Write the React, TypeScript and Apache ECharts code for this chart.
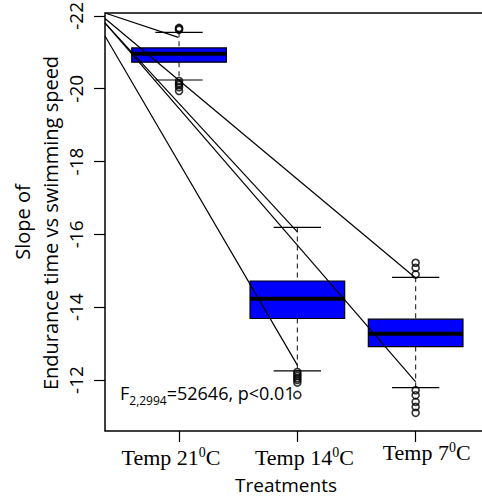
import React, { useEffect, useRef } from 'react';
import * as echarts from 'echarts';

// ---- data ----
const positions = [1, 2, 3];
const xLabelMain = ['Temp 21', 'Temp 14', 'Temp 7'];
const xLabelSup = '0';
const xLabelSuffix = 'C';

const whiskerLow = [-21.55, -16.19, -14.82];
const q1 = [-21.12, -14.72, -13.67];
const median = [-20.96, -14.23, -13.27];
const q3 = [-20.73, -13.69, -12.92];
const whiskerHigh = [-20.24, -12.25, -11.79];

const outliers21 = [-21.67, -21.65, -21.62, -20.21, -20.15, -20.1, -20.04, -19.94];
const outliers14 = [-12.22, -12.16, -12.11, -12.05, -12.0, -11.93, -11.59];
const outliers7 = [-15.22, -15.08, -14.9, -11.72, -11.58, -11.4, -11.26, -11.1];

const yTicks = [-22, -20, -18, -16, -14, -12];

// slope lines: start (x0,y0) -> end (x1,y1)
const segX0 = [0.374, 0.374, 0.374, 0.374, 0.374];
const segY0 = [-22.08, -21.93, -21.8, -21.81, -21.45];
const segX1 = [0.994, 3, 2, 3, 2];
const segY1 = [-21.41, -14.8, -16.07, -11.95, -12.41];

const yTitle1 = 'Slope of';
const yTitle2 = 'Endurance time vs swimming speed';
const xTitle = 'Treatments';
const statF = 'F';
const statSub = '2,2994';
const statRest = '=52646, p<0.01';

export default function App() {
  const ref = useRef<HTMLDivElement>(null);
  useEffect(() => {
    document.body.style.margin = '0';
    if (!ref.current) return;
    const chart = echarts.init(ref.current, null, { renderer: 'svg' });
    const sans = 'Open Sans';
    const serif = 'Liberation Serif';

    const boxData = positions.map((p, i) => [p, whiskerLow[i], q1[i], median[i], q3[i], whiskerHigh[i]]);
    const outlierData: number[][] = [];
    [outliers21, outliers14, outliers7].forEach((arr, i) => arr.forEach((v) => outlierData.push([positions[i], v])));

    const lineSeries = segX0.map((_, i) => ({
      type: 'line',
      data: [[segX0[i], segY0[i]], [segX1[i], segY1[i]]],
      showSymbol: false,
      symbol: 'none',
      lineStyle: { color: '#000', width: 1.2 },
      z: 10,
      silent: true,
    }));

    const rich: any = {
      t: { fontFamily: serif, fontSize: 22, lineHeight: 26, color: '#000', verticalAlign: 'middle' },
      s: { fontFamily: serif, fontSize: 14, lineHeight: 14, height: 16, color: '#000', verticalAlign: 'top' },
      tpr: { fontFamily: serif, fontSize: 22, lineHeight: 26, color: '#000', verticalAlign: 'middle', padding: [0, 16, 0, 0] },
      tpl: { fontFamily: serif, fontSize: 22, lineHeight: 26, color: '#000', verticalAlign: 'middle', padding: [0, 0, 0, 14] },
      t3: { fontFamily: serif, fontSize: 22, lineHeight: 16, color: '#000', verticalAlign: 'middle', padding: [0, 0, 0, 22] },
      t3b: { fontFamily: serif, fontSize: 22, lineHeight: 16, color: '#000', verticalAlign: 'middle' },
      s3: { fontFamily: serif, fontSize: 14, lineHeight: 4, height: 6, color: '#000', verticalAlign: 'top' },
    };

    const option: any = {
      animation: false,
      grid: {
        left: 105, top: 13, right: -7, bottom: 66,
        containLabel: false, outerBoundsMode: 'none',
        show: true, borderColor: '#000', borderWidth: 1.5, backgroundColor: 'transparent',
      },
      xAxis: {
        type: 'value',
        min: 0.374,
        max: 3.62,
        axisLine: { show: false },
        splitLine: { show: false },
        axisTick: { show: true, customValues: positions, length: 11, lineStyle: { color: '#000', width: 1.2 } },
        axisLabel: {
          customValues: positions,
          margin: 13,
          formatter: (v: number) => {
            const i = positions.indexOf(Math.round(v));
            if (i === 0) return `{t|${xLabelMain[i]}}{s|${xLabelSup}}{tpr|${xLabelSuffix}}`;
            if (i === 1) return `{tpl|${xLabelMain[i]}}{s|${xLabelSup}}{t|${xLabelSuffix}}`;
            return `{t3|${xLabelMain[i]}}{s3|${xLabelSup}}{t3b|${xLabelSuffix}}`;
          },
          rich,
        },
      },
      yAxis: {
        type: 'value',
        inverse: true,
        min: -22.08,
        max: -10.6,
        axisLine: { show: false },
        splitLine: { show: false },
        axisTick: { show: true, customValues: yTicks, length: 11, lineStyle: { color: '#000', width: 1.2 } },
        axisLabel: { customValues: yTicks, rotate: 90, margin: 20, fontFamily: sans, fontSize: 19, color: '#000' },
      },
      series: [
        {
          type: 'custom',
          data: boxData,
          encode: { x: 0, y: [1, 2, 3, 4, 5] },
          z: 2,
          renderItem: (params: any, api: any) => {
            const x = api.value(0);
            const lo = api.value(1), a = api.value(2), m = api.value(3), b = api.value(4), hi = api.value(5);
            const hb = 0.4, hc = 0.2;
            const pA = api.coord([x - hb, a]);
            const pB = api.coord([x + hb, b]);
            const cLo = api.coord([x, lo]);
            const cHi = api.coord([x, hi]);
            const cLoL = api.coord([x - hc, lo]);
            const cLoR = api.coord([x + hc, lo]);
            const cHiL = api.coord([x - hc, hi]);
            const cHiR = api.coord([x + hc, hi]);
            const mL = api.coord([x - hb, m]);
            const mR = api.coord([x + hb, m]);
            const top = Math.min(pA[1], pB[1]);
            const bot = Math.max(pA[1], pB[1]);
            const dash = { stroke: '#222', lineWidth: 1.1, lineDash: [5, 4] };
            const solid = { stroke: '#000', lineWidth: 1.2 };
            return {
              type: 'group',
              children: [
                { type: 'line', shape: { x1: cLo[0], y1: cLo[1], x2: cLo[0], y2: top }, style: dash },
                { type: 'line', shape: { x1: cHi[0], y1: bot, x2: cHi[0], y2: cHi[1] }, style: dash },
                { type: 'line', shape: { x1: cLoL[0], y1: cLoL[1], x2: cLoR[0], y2: cLoR[1] }, style: solid },
                { type: 'line', shape: { x1: cHiL[0], y1: cHiL[1], x2: cHiR[0], y2: cHiR[1] }, style: solid },
                { type: 'rect', shape: { x: pA[0], y: top, width: pB[0] - pA[0], height: bot - top }, style: { fill: '#0000FF', stroke: '#000', lineWidth: 1.2 } },
                { type: 'line', shape: { x1: mL[0], y1: mL[1], x2: mR[0], y2: mR[1] }, style: { stroke: '#000', lineWidth: 4 } },
              ],
            };
          },
        },
        {
          type: 'scatter',
          data: outlierData,
          symbol: 'circle',
          symbolSize: 7,
          itemStyle: { color: 'rgba(0,0,0,0)', borderColor: '#000', borderWidth: 1.6 },
          z: 5,
          silent: true,
        },
        ...lineSeries,
      ],
      graphic: [
        { type: 'text', x: 22, y: 222, rotation: Math.PI / 2, style: { text: yTitle1, fontFamily: sans, fontSize: 20, fill: '#000', align: 'center', verticalAlign: 'middle' } },
        { type: 'text', x: 50, y: 223, rotation: Math.PI / 2, style: { text: yTitle2, fontFamily: sans, fontSize: 20, fill: '#000', align: 'center', verticalAlign: 'middle' } },
        { type: 'text', x: 286, y: 485, style: { text: xTitle, fontFamily: sans, fontSize: 19, lineHeight: 20, fill: '#000', align: 'center', verticalAlign: 'middle' } },
        {
          type: 'text', x: 120, y: 393, z: 20,
          style: {
            text: `{a|${statF}}{b|${statSub}}{a|${statRest}}`,
            align: 'left', verticalAlign: 'middle', fill: '#000',
            rich: {
              a: { fontFamily: sans, fontSize: 18, lineHeight: 24, fill: '#000', verticalAlign: 'middle' },
              b: { fontFamily: sans, fontSize: 12, lineHeight: 12, height: 10, fill: '#000', verticalAlign: 'bottom' },
            },
          },
        },
      ],
    };
    chart.setOption(option);
    return () => chart.dispose();
  }, []);
  return <div ref={ref} style={{ width: 482, height: 497 }} />;
}
